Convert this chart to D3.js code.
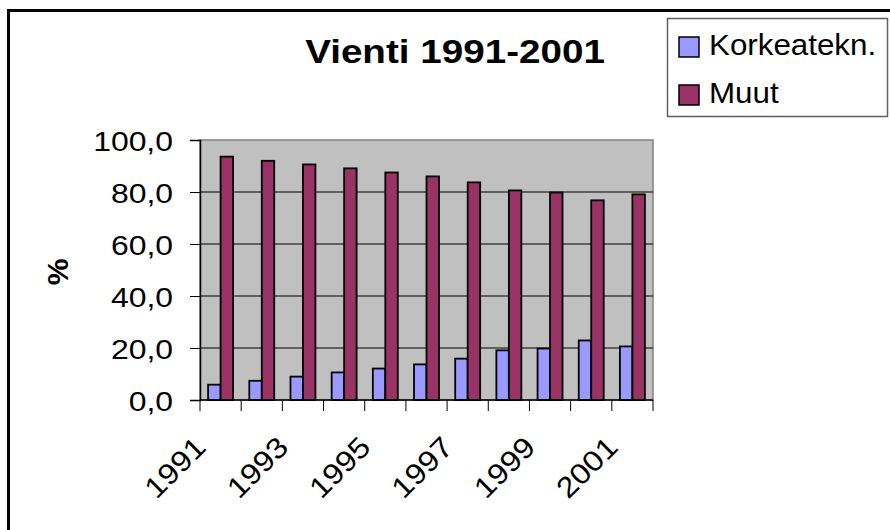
<!DOCTYPE html>
<html lang="fi">
<head>
<meta charset="UTF-8">
<style>
  body { margin: 0; background: #fff; }
  svg { display: block; font-family: "Liberation Sans", Arial, sans-serif; }
</style>
<script src="https://d3js.org/d3.v7.min.js"></script>
</head>
<body>
<svg id="chart" width="890" height="530"></svg>
<script>
// data
const years = ["1991", "1992", "1993", "1994", "1995", "1996", "1997", "1998", "1999", "2000", "2001"];
const korkeatekn = [5.9, 7.4, 9.0, 10.6, 12.1, 13.7, 15.9, 19.1, 19.8, 22.9, 20.6];
const muut = [93.6, 92.0, 90.6, 89.1, 87.5, 86.0, 83.7, 80.6, 79.8, 76.8, 79.1];
const seriesNames = ["Korkeatekn.", "Muut"];
const yTicks = [0, 20, 40, 60, 80, 100];
const shownYears = ["1991", "1993", "1995", "1997", "1999", "2001"];

const colors = { "Korkeatekn.": "#9999FF", "Muut": "#993366" };
const sx = 1.12; // text in the original is a bit stretched sideways

const svg = d3.select("#chart");

// outer chart frame (only top and left edges are visible)
svg.append("path")
    .attr("d", "M8.5,530 V10.5 H890")
    .attr("fill", "none")
    .attr("stroke", "#000")
    .attr("stroke-width", 3);

const plot = { left: 200, right: 653, top: 140, bottom: 400 };

const x0 = d3.scaleBand().domain(years).range([plot.left, plot.right]);
const x1 = d3.scaleBand().domain(seriesNames).range([0, x0.bandwidth()]).paddingOuter(0.65);
const y = d3.scaleLinear().domain([0, 100]).range([plot.bottom, plot.top]);

// plot background
svg.append("rect")
    .attr("x", plot.left).attr("y", plot.top)
    .attr("width", plot.right - plot.left).attr("height", plot.bottom - plot.top)
    .attr("fill", "#C0C0C0")
    .attr("stroke", "#808080")
    .attr("stroke-width", 1.5);

// gridlines
svg.append("g")
    .selectAll("line")
    .data(yTicks.filter(d => d > 0 && d < 100))
    .join("line")
    .attr("x1", plot.left).attr("x2", plot.right)
    .attr("y1", d => y(d)).attr("y2", d => y(d))
    .attr("stroke", "#000")
    .attr("stroke-width", 1);

// bars
const rows = years.map((yr, i) => ({ year: yr, values: [
    { key: "Korkeatekn.", value: korkeatekn[i] },
    { key: "Muut", value: muut[i] }
] }));

svg.append("g")
    .selectAll("g")
    .data(rows)
    .join("g")
    .attr("transform", d => `translate(${x0(d.year)},0)`)
    .selectAll("rect")
    .data(d => d.values)
    .join("rect")
    .attr("x", d => x1(d.key))
    .attr("y", d => y(d.value))
    .attr("width", x1.bandwidth())
    .attr("height", d => y(0) - y(d.value))
    .attr("fill", d => colors[d.key])
    .attr("stroke", "#000")
    .attr("stroke-width", 1.8);

// y axis
const yAxis = svg.append("g")
    .attr("transform", `translate(${plot.left},0)`)
    .call(d3.axisLeft(y).tickValues(yTicks).tickSize(10).tickFormat(d => d.toFixed(1).replace(".", ",")));
yAxis.select(".domain").attr("stroke", "#000").attr("stroke-width", 1.5);
yAxis.selectAll(".tick line").attr("stroke", "#000");
yAxis.selectAll(".tick text")
    .attr("x", 0).attr("dy", "0.36em")
    .attr("font-size", 28)
    .attr("fill", "#000")
    .attr("font-family", "Liberation Sans, Arial, sans-serif")
    .attr("transform", `translate(-27,0) scale(1.14,1)`);

// x axis: ticks on category edges
const edges = years.map(d => x0(d)).concat([plot.right]);
svg.append("line")
    .attr("x1", plot.left).attr("x2", plot.right)
    .attr("y1", plot.bottom).attr("y2", plot.bottom)
    .attr("stroke", "#000").attr("stroke-width", 1.5);
svg.append("g")
    .selectAll("line")
    .data(edges)
    .join("line")
    .attr("x1", d => d).attr("x2", d => d)
    .attr("y1", plot.bottom).attr("y2", plot.bottom + 11)
    .attr("stroke", "#000");

svg.append("g")
    .selectAll("text")
    .data(shownYears)
    .join("text")
    .attr("transform", d => `translate(${x0(d) + x0.bandwidth() / 2 - 13},449) rotate(-45) scale(${sx},1)`)
    .attr("text-anchor", "end")
    .attr("font-size", 29)
    .attr("fill", "#000")
    .text(d => d);

// y axis title
svg.append("text")
    .attr("transform", `translate(68,272) rotate(-90)`)
    .attr("text-anchor", "middle")
    .attr("font-size", 30)
    .attr("font-weight", "bold")
    .text("%");

// chart title
svg.append("text")
    .attr("transform", `translate(455,63) scale(1.17,1)`)
    .attr("text-anchor", "middle")
    .attr("font-size", 33)
    .attr("font-weight", "bold")
    .text("Vienti 1991-2001");

// legend
const legend = svg.append("g");
legend.append("rect")
    .attr("x", 667.5).attr("y", 18.5)
    .attr("width", 220).attr("height", 98)
    .attr("fill", "#fff")
    .attr("stroke", "#606060")
    .attr("stroke-width", 1.5);

const items = legend.selectAll("g.item")
    .data(seriesNames)
    .join("g")
    .attr("class", "item")
    .attr("transform", (d, i) => `translate(679,${37 + i * 48})`);
items.append("rect")
    .attr("width", 20).attr("height", 20)
    .attr("fill", d => colors[d])
    .attr("stroke", "#000")
    .attr("stroke-width", 1.5);
items.append("text")
    .attr("transform", `translate(30,17.5) scale(1.08,1)`)
    .attr("font-size", 29)
    .attr("fill", "#000")
    .text(d => d);
</script>
</body>
</html>
